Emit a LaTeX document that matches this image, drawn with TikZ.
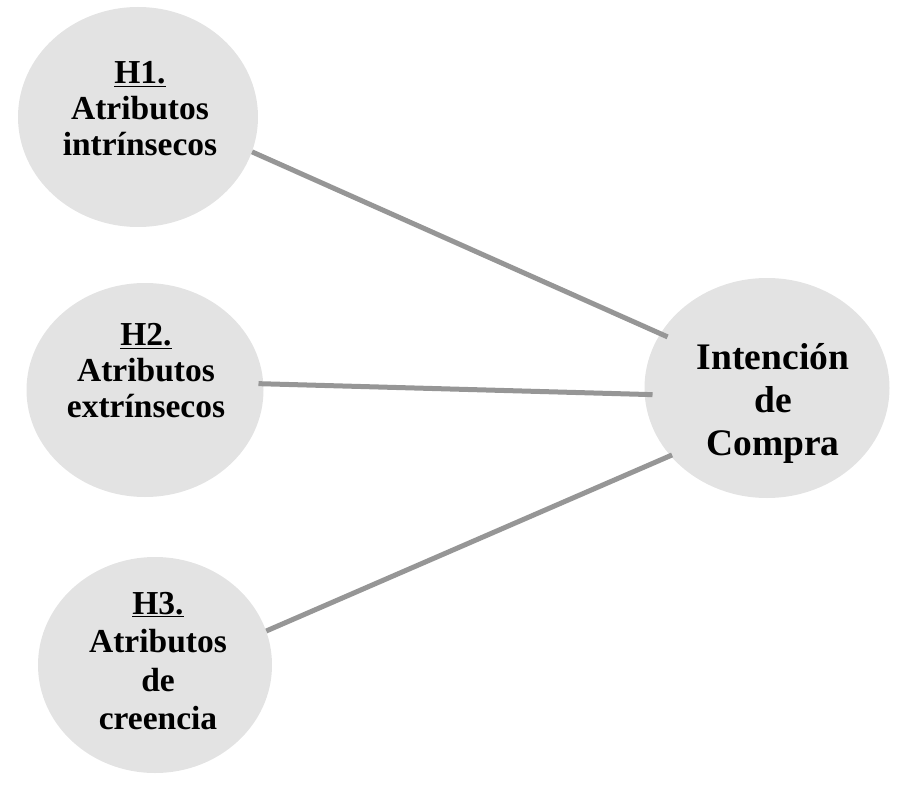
\documentclass[tikz,border=0pt]{standalone}
\usepackage{fontspec}
\setmainfont{Liberation Serif}
\usetikzlibrary{shapes.geometric}
\definecolor{bubble}{HTML}{E3E3E3}
\definecolor{link}{HTML}{969696}
\begin{document}
\begin{tikzpicture}[x=1pt,y=-1pt,
  bub/.style={ellipse,fill=bubble,draw=none,inner sep=0pt},
  lbl/.style={align=center,font=\fontsize{33.5}{36}\selectfont\bfseries,inner sep=0pt},
  big/.style={align=center,font=\fontsize{37.5}{43}\selectfont\bfseries,inner sep=0pt},
  conn/.style={draw=link,line width=5pt}]
\useasboundingbox (0,0) rectangle (899,786);
\node[bub,minimum width=240pt,minimum height=220pt] (h1) at (138,117) {};
\node[bub,minimum width=237pt,minimum height=214pt] (h2) at (145,390) {};
\node[bub,minimum width=234pt,minimum height=216pt] (h3) at (155,665) {};
\node[bub,minimum width=245pt,minimum height=220pt] (int) at (767,388) {};
\draw[conn,shorten >=-8pt] (h1.-17) -- (int.153);
\draw[conn,shorten <=-5pt,shorten >=-8pt] (h2.3.5) -- (int.183.6);
\draw[conn,shorten >=-2pt] (h3.17) -- (int.-145.6);
\node[lbl] (t1) at (140,109) {\underline{H1.}\\Atributos\\intrínsecos};
\node[lbl] (t2) at (146,371) {\underline{H2.}\\Atributos\\extrínsecos};
\node[lbl,font=\fontsize{33.5}{38.5}\selectfont\bfseries] (t3) at (158,661) {\underline{H3.}\\Atributos\\de\\creencia};
\node[big] (t4) at (773,403) {Intención\\de\\Compra};
\end{tikzpicture}
\end{document}
